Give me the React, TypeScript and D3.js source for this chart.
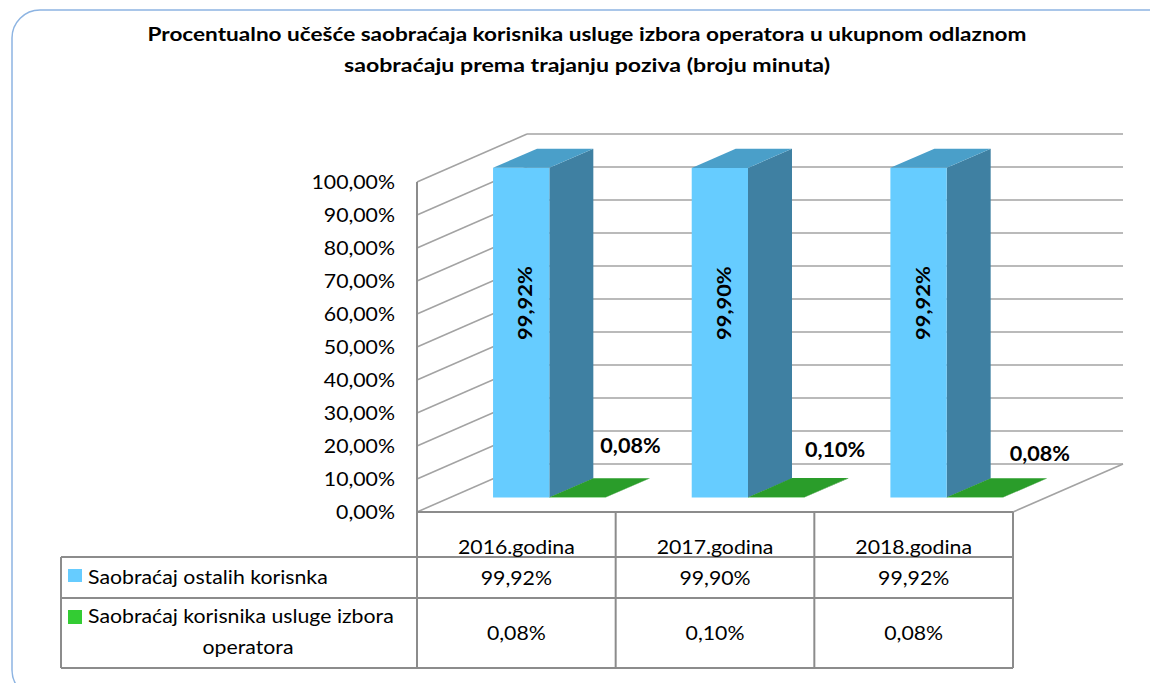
import React from "react";
import * as d3 from "d3";

const categories = ["2016.godina", "2017.godina", "2018.godina"];
const seriesNames = ["Saobraćaj ostalih korisnka", "Saobraćaj korisnika usluge izbora operatora"];
const ostaliValues = [99.92, 99.9, 99.92];
const izborValues = [0.08, 0.1, 0.08];
const yTicks = [0, 10, 20, 30, 40, 50, 60, 70, 80, 90, 100];
const titleLines = [
  "Procentualno učešće saobraćaja korisnika usluge izbora operatora u ukupnom odlaznom",
  "saobraćaju prema trajanju poziva (broju minuta)",
];

const W = 1150;
const H = 683;
const FONT = "Lato, 'Open Sans', sans-serif";
const SX = 1.12;

const FRONT_L = 417;
const FRONT_R = 1013;
const FLOOR_Y = 512;
const TOP_Y = 182;
const DDX = 110;
const DDY = -48;
const BAR_D0 = 0.3;
const BAR_D1 = 0.7;

const TBL_L = 61;
const ROW0 = 557;
const ROW1 = 598;
const ROW2 = 668;

const fmt = (v: number) => v.toFixed(2).replace(".", ",") + "%";

function T(props: {
  x: number; y: number; size: number; weight?: string; anchor?: string; sx?: number; rotate?: number;
  children: React.ReactNode; fill?: string;
}) {
  const { x, y, size, weight = "normal", anchor = "start", sx = SX, rotate = 0, fill = "#000" } = props;
  return (
    <text
      transform={`translate(${x},${y}) rotate(${rotate}) scale(${sx},1)`}
      fontFamily={FONT}
      fontSize={size}
      fontWeight={weight}
      textAnchor={anchor}
      fill={fill}
    >
      {props.children}
    </text>
  );
}

export default function App() {
  const y = d3.scaleLinear().domain([0, 100]).range([FLOOR_Y, TOP_Y]);
  const xCat = d3.scaleBand<string>().domain(categories).range([FRONT_L, FRONT_R]).padding(0);
  const xSer = d3.scaleBand<number>().domain([0, 1]).range([0, xCat.bandwidth()]).paddingInner(0).paddingOuter(0.765);
  const bw = xSer.bandwidth();

  const pt = (x: number, yy: number, d: number) => [x + DDX * d, yy + DDY * d];
  const poly = (pts: number[][]) => pts.map((p) => p.join(",")).join(" ");

  const gridColor = "#a3a3a3";
  const tableColor = "#8c8c8c";

  const bars: React.ReactNode[] = [];
  const labels: React.ReactNode[] = [];
  categories.forEach((c, i) => {
    const series = [ostaliValues[i], izborValues[i]];
    series.forEach((v, s) => {
      const x0 = (xCat(c) as number) + (xSer(s) as number);
      const x1 = x0 + bw;
      const yb = y(0);
      const yt = y(v);
      const colors =
        s === 0
          ? { front: "#66ccff", top: "#4a9fc9", side: "#3f80a2" }
          : { front: "#33cc33", top: "#2a9d2a", side: "#228022" };
      const fBL = pt(x0, yb, BAR_D0), fBR = pt(x1, yb, BAR_D0), fTL = pt(x0, yt, BAR_D0), fTR = pt(x1, yt, BAR_D0);
      const bBR = pt(x1, yb, BAR_D1), bTL = pt(x0, yt, BAR_D1), bTR = pt(x1, yt, BAR_D1);
      bars.push(
        <g key={`b${i}-${s}`}>
          <polygon points={poly([fBR, bBR, bTR, fTR])} fill={colors.side} />
          <polygon points={poly([fBL, fBR, fTR, fTL])} fill={colors.front} />
          <polygon points={poly([fTL, fTR, bTR, bTL])} fill={colors.top} />
        </g>
      );
      if (s === 0) {
        const cx = (x0 + x1) / 2 + DDX * BAR_D0 + 4;
        const cy = y(v * 0.59) + DDY * BAR_D0;
        labels.push(
          <T key={`l${i}-${s}`} x={cx + 7} y={cy} size={19} weight="bold" anchor="middle" rotate={-90} sx={1.15}>
            {fmt(v)}
          </T>
        );
      } else {
        const cx = (x0 + x1) / 2 + 86 + i * 6;
        const cy = y(v) + DDY * BAR_D0 - 44 + i * 4;
        labels.push(
          <T key={`l${i}-${s}`} x={cx} y={cy} size={20} weight="bold" anchor="middle" sx={1.08}>
            {fmt(v)}
          </T>
        );
      }
    });
  });

  return (
    <svg width={W} height={H} style={{ position: "absolute", left: 0, top: 0, background: "#fff" }}>
      <rect x={12} y={10} width={1166} height={688} rx={28} ry={28} fill="#fff" stroke="#8db4e2" strokeWidth={1.5} />

      {titleLines.map((l, i) => (
        <text
          key={i}
          x={587}
          y={41 + i * 31}
          textAnchor="middle"
          fontFamily={FONT}
          fontSize={19}
          fontWeight="bold"
          textLength={i === 0 ? 879 : 486}
          lengthAdjust="spacingAndGlyphs"
        >
          {l}
        </text>
      ))}

      {/* walls gridlines */}
      <g stroke={gridColor} strokeWidth={1.6} fill="none">
        {yTicks.map((t) => (
          <g key={t}>
            <line x1={FRONT_L} y1={y(t)} x2={FRONT_L + DDX} y2={y(t) + DDY} />
            <line x1={FRONT_L + DDX} y1={y(t) + DDY} x2={FRONT_R + DDX} y2={y(t) + DDY} />
          </g>
        ))}
        <line x1={FRONT_R} y1={FLOOR_Y} x2={FRONT_R + DDX} y2={FLOOR_Y + DDY} />
      </g>
      <line x1={FRONT_L} y1={y(100)} x2={FRONT_L} y2={FLOOR_Y} stroke={tableColor} strokeWidth={2} />

      {bars}
      {labels}

      {/* y axis labels */}
      {yTicks.map((t) => (
        <T key={t} x={395} y={y(t) + 7} size={19} anchor="end">
          {fmt(t)}
        </T>
      ))}

      {/* data table */}
      <g stroke={tableColor} strokeWidth={2} fill="none">
        <line x1={FRONT_L} y1={FLOOR_Y} x2={FRONT_R} y2={FLOOR_Y} />
        <line x1={TBL_L} y1={ROW0} x2={FRONT_R} y2={ROW0} />
        <line x1={TBL_L} y1={ROW1} x2={FRONT_R} y2={ROW1} />
        <line x1={TBL_L} y1={ROW2} x2={FRONT_R} y2={ROW2} />
        <line x1={TBL_L} y1={ROW0} x2={TBL_L} y2={ROW2} />
        {[...categories.map((c) => xCat(c) as number), FRONT_R].map((x, i) => (
          <line key={i} x1={x} y1={FLOOR_Y} x2={x} y2={ROW2} />
        ))}
      </g>
      {categories.map((c, i) => {
        const cx = (xCat(c) as number) + xCat.bandwidth() / 2;
        return (
          <g key={c}>
            <T x={cx} y={554} size={19} anchor="middle">{c}</T>
            <T x={cx} y={585} size={19} anchor="middle">{fmt(ostaliValues[i])}</T>
            <T x={cx} y={640} size={19} anchor="middle">{fmt(izborValues[i])}</T>
          </g>
        );
      })}
      <rect x={68} y={569} width={14} height={13} fill="#66ccff" />
      <T x={88} y={584} size={19}>{seriesNames[0]}</T>
      <rect x={68} y={610} width={14} height={14} fill="#33cc33" />
      <T x={88} y={623} size={19}>{"Saobraćaj korisnika usluge izbora"}</T>
      <T x={248} y={654} size={19} anchor="middle">{"operatora"}</T>
    </svg>
  );
}
